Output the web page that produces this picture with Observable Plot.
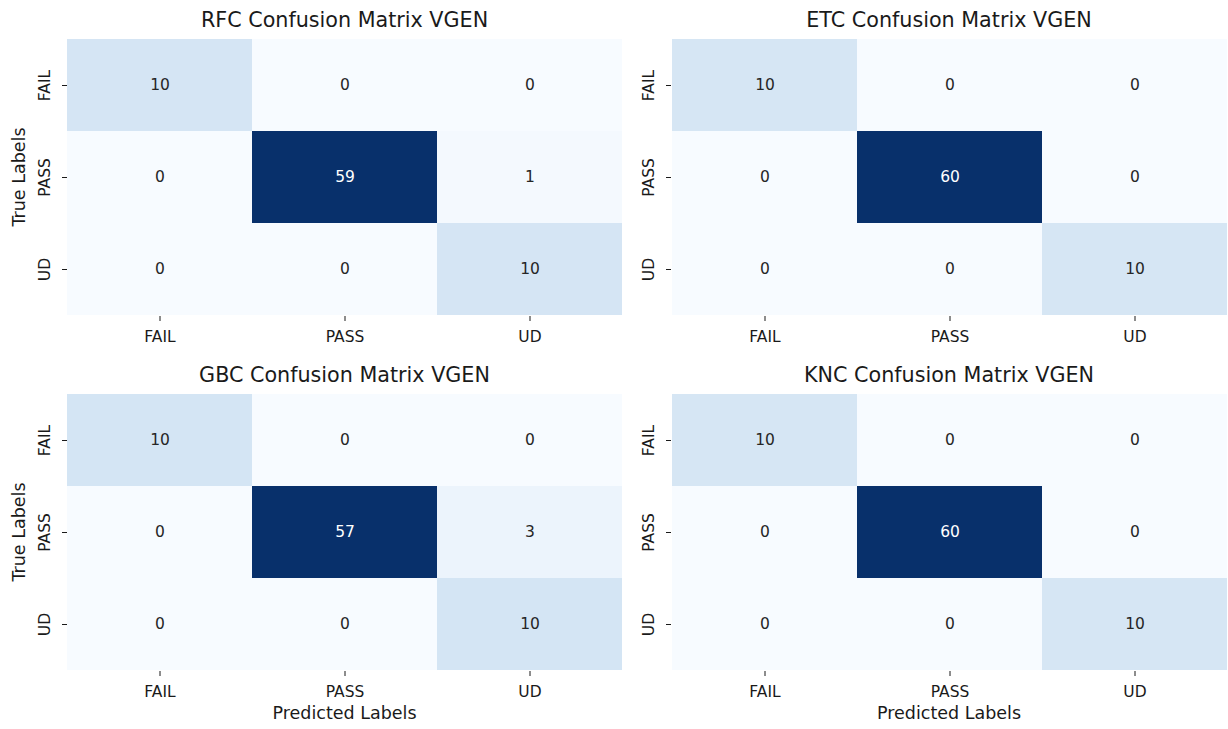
<!DOCTYPE html>
<html>
<head>
<meta charset="utf-8">
<script src="https://cdn.jsdelivr.net/npm/d3@7"></script>
<script src="https://cdn.jsdelivr.net/npm/@observablehq/plot@0.6"></script>
<style>
  html, body { margin: 0; padding: 0; background: #fff; }
  #root { position: relative; width: 1228px; height: 729px; font-family: "DejaVu Sans", sans-serif; color: #1a1a1a; }
  .panel { position: absolute; }
  .title { position: absolute; font-size: 20.7px; line-height: 20.7px; white-space: nowrap; transform: translateX(-50%); }
  .xlab { position: absolute; font-size: 17.5px; line-height: 17.5px; white-space: nowrap; transform: translateX(-50%); }
  .ylab { position: absolute; font-size: 17.5px; line-height: 17.5px; white-space: nowrap; transform: translate(-50%, -50%) rotate(-90deg); }
</style>
</head>
<body>
<div id="root"></div>
<script>
// ---- data ----
const classLabels = ["FAIL", "PASS", "UD"];
const modelNames = ["RFC", "ETC", "GBC", "KNC"];
const rfcMatrix = [[10, 0, 0], [0, 59, 1], [0, 0, 10]];
const etcMatrix = [[10, 0, 0], [0, 60, 0], [0, 0, 10]];
const gbcMatrix = [[10, 0, 0], [0, 57, 3], [0, 0, 10]];
const kncMatrix = [[10, 0, 0], [0, 60, 0], [0, 0, 10]];
const matrices = [rfcMatrix, etcMatrix, gbcMatrix, kncMatrix];
const titleSuffix = " Confusion Matrix VGEN";
const xAxisTitle = "Predicted Labels";
const yAxisTitle = "True Labels";

// ---- layout ----
const root = document.getElementById("root");
const panelLayout = [
  {left: 0,   top: 0,   width: 622, height: 354, marginTop: 38, marginBottom: 38},
  {left: 604, top: 0,   width: 623, height: 354, marginTop: 38, marginBottom: 38},
  {left: 0,   top: 354, width: 622, height: 375, marginTop: 39, marginBottom: 58},
  {left: 604, top: 354, width: 623, height: 375, marginTop: 39, marginBottom: 58}
];

matrices.forEach((m, i) => {
  const data = [];
  m.forEach((row, r) => row.forEach((v, c) => data.push({trueLabel: classLabels[r], predLabel: classLabels[c], value: v})));
  const vmax = d3.max(data, d => d.value);
  const vmin = d3.min(data, d => d.value);
  const L = panelLayout[i];
  const chart = Plot.plot({
    width: L.width,
    height: L.height,
    marginLeft: 67,
    marginRight: 0,
    marginTop: L.marginTop,
    marginBottom: L.marginBottom,
    style: {fontFamily: "DejaVu Sans", fontSize: "15.5px", color: "#1a1a1a", background: "transparent"},
    x: {domain: classLabels, padding: 0, label: null},
    y: {domain: classLabels, padding: 0, label: null},
    color: {type: "linear", scheme: "blues", domain: [vmin, vmax]},
    marks: [
      Plot.cell(data, {x: "predLabel", y: "trueLabel", fill: "value", inset: 0}),
      Plot.text(data.filter(d => d.value <= (vmin + vmax) / 2), {x: "predLabel", y: "trueLabel", text: d => String(d.value), fill: "#262626", fontSize: 15.5}),
      Plot.text(data.filter(d => d.value > (vmin + vmax) / 2), {x: "predLabel", y: "trueLabel", text: d => String(d.value), fill: "white", fontSize: 15.5}),
      Plot.axisX({tickSize: 5, tickPadding: 9, label: null}),
      Plot.axisY({tickSize: 5, tickPadding: 13, tickRotate: -90, label: null})
    ]
  });
  const wrap = document.createElement("div");
  wrap.className = "panel";
  wrap.style.left = L.left + "px";
  wrap.style.top = L.top + "px";
  wrap.appendChild(chart);
  root.appendChild(wrap);

  const cx = L.left + 67 + (L.width - 67) / 2;
  const t = document.createElement("div");
  t.className = "title";
  t.textContent = modelNames[i] + titleSuffix;
  t.style.left = cx + "px";
  t.style.top = (L.top + L.marginTop - 28) + "px";
  root.appendChild(t);

  if (i % 2 === 0) {
    const yl = document.createElement("div");
    yl.className = "ylab";
    yl.textContent = yAxisTitle;
    yl.style.left = "20px";
    yl.style.top = (L.top + L.marginTop + (L.height - L.marginTop - L.marginBottom) / 2) + "px";
    root.appendChild(yl);
  }
  if (i >= 2) {
    const xl = document.createElement("div");
    xl.className = "xlab";
    xl.textContent = xAxisTitle;
    xl.style.left = cx + "px";
    xl.style.top = "705px";
    root.appendChild(xl);
  }
});
</script>
</body>
</html>
